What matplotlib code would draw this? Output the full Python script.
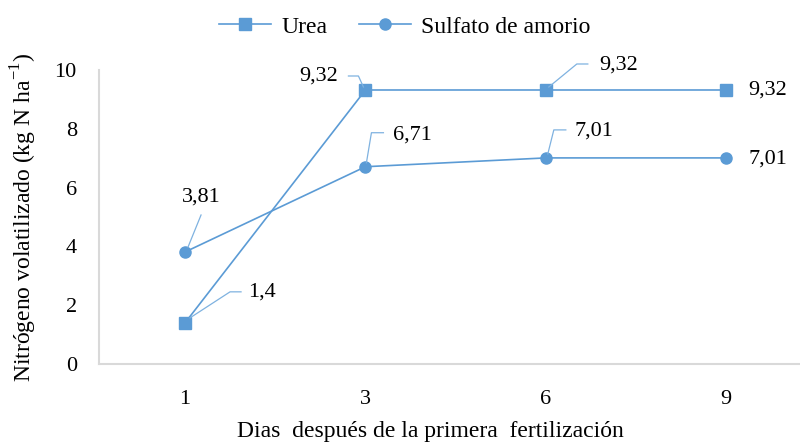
import matplotlib
matplotlib.use("Agg")
import matplotlib.pyplot as plt
import matplotlib.transforms as mtransforms
from matplotlib.lines import Line2D

# datos
dias = ["1", "3", "6", "9"]
urea = [1.4, 9.32, 9.32, 9.32]
sulfato = [3.81, 6.71, 7.01, 7.01]
urea_lbl = ["1,4", "9,32", "9,32", "9,32"]
sulfato_lbl = ["3,81", "6,71", "7,01", "7,01"]

plt.rcParams['font.family'] = ['Liberation Serif', 'DejaVu Serif']
plt.rcParams['mathtext.fontset'] = 'custom'
plt.rcParams['mathtext.rm'] = 'Liberation Serif'
plt.rcParams['font.size'] = 16

azul = '#5B9BD5'
gris = '#D9D9D9'

W, H = 800, 442
fig = plt.figure(figsize=(8, 4.42), dpi=100)
# ejes en pixeles: izq 99, arriba 70, abajo 364, derecha ~820
ax = fig.add_axes([99 / W, 1 - 364 / H, (820 - 99) / W, (364 - 70) / H])

x = range(len(dias))
ax.plot(x, urea, color=azul, lw=1.2, marker='s', ms=9, label='Urea')
ax.plot(x, sulfato, color=azul, lw=1.2, marker='o', ms=8, label='Sulfato de amorio')

ax.set_xlim(-0.477, 3.52)
ax.set_ylim(0, 10)
ax.set_yticks(range(0, 11, 2))
ax.set_xticks(list(x))
ax.set_xticklabels(dias)
ax.tick_params(length=0)
ax.tick_params(axis='y', pad=16)
ax.tick_params(axis='x', pad=19)

for s in ['top', 'right']:
    ax.spines[s].set_visible(False)
for s in ['left', 'bottom']:
    ax.spines[s].set_color(gris)
    ax.spines[s].set_linewidth(1.5)

ax.set_ylabel('Nitrógeno volatilizado (kg N ha$^{-1}$)', labelpad=11, fontsize=17)
fig.text(430 / W, 1 - 432 / H, 'Dias  después de la primera  fertilización',
         ha='center', va='center', fontsize=17)

fig.legend(loc='center', bbox_to_anchor=(405 / W, 1 - 27 / H), ncol=2,
           frameon=False, handlelength=2.2, columnspacing=1.3, handletextpad=0.45,
           fontsize=17)


# etiquetas con lineas guia (desplazamientos en pixeles, y hacia abajo)
def etiqueta(xi, yi, txt, tx, ty, ha, guia=None):
    px, py = ax.transData.transform((xi, yi))
    ax.annotate(txt, (xi, yi), xytext=(tx, -ty), textcoords='offset pixels',
                ha=ha, va='center')
    if guia:
        xs = [px + g[0] for g in guia]
        ys = [py - g[1] for g in guia]
        fig.add_artist(Line2D(xs, ys, color='#7FB2E0', lw=0.9,
                              transform=mtransforms.IdentityTransform()))


etiqueta(0, urea[0], urea_lbl[0], 63, -31, 'left', [(5, -5), (45, -31), (56, -31)])
etiqueta(1, urea[1], urea_lbl[1], -27, -14, 'right', [(-2, -3), (-7, -14), (-17, -14)])
etiqueta(2, urea[2], urea_lbl[2], 53, -25, 'left', [(3, -3), (31, -26), (42, -26)])
etiqueta(3, urea[3], urea_lbl[3], 22, 0, 'left')

etiqueta(0, sulfato[0], sulfato_lbl[0], 16, -55, 'center', [(3, -5), (16, -37)])
etiqueta(1, sulfato[1], sulfato_lbl[1], 28, -32, 'left', [(1, -4), (6, -34), (18, -34)])
etiqueta(2, sulfato[2], sulfato_lbl[2], 29, -27, 'left', [(2, -4), (8, -28), (20, -28)])
etiqueta(3, sulfato[3], sulfato_lbl[3], 22, 1, 'left')

fig.savefig('out.png', dpi=100)
